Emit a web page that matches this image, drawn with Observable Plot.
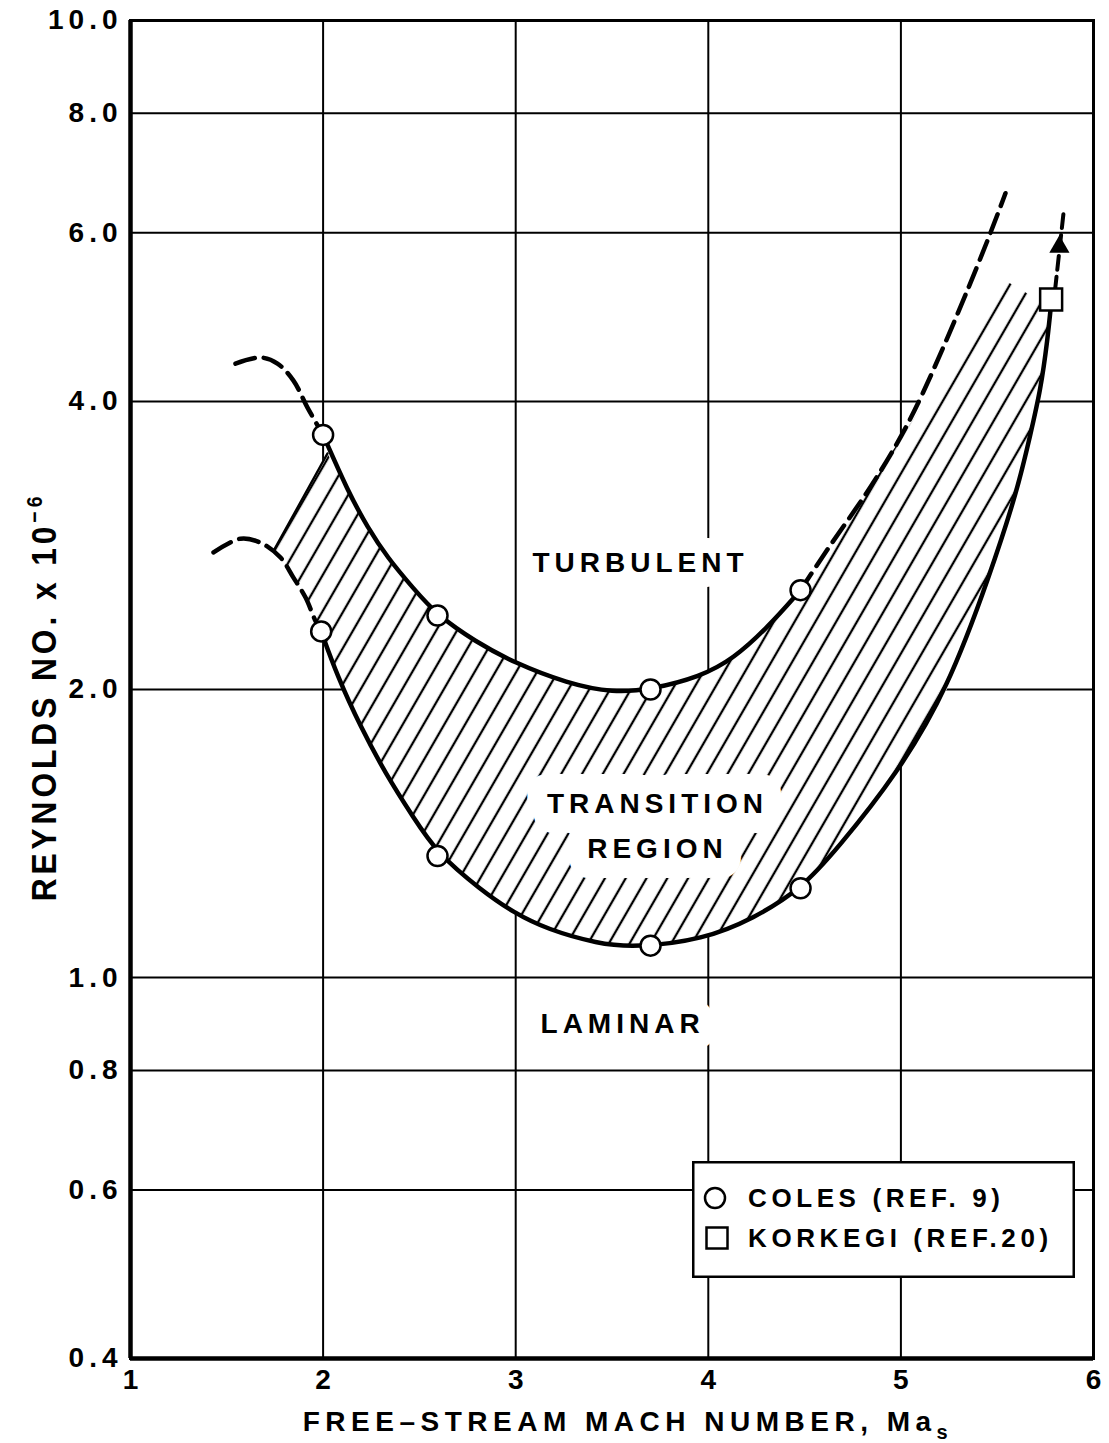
<!DOCTYPE html>
<html><head><meta charset="utf-8">
<script src="https://cdn.jsdelivr.net/npm/d3@7"></script>
<script src="https://cdn.jsdelivr.net/npm/@observablehq/plot@0.6"></script>
<style>
html,body{margin:0;padding:0;background:#fff;}
#wrap{position:relative;width:1109px;height:1443px;}
g[aria-label="y-axis tick label"] text{letter-spacing:5px}
#legend{position:absolute;left:692px;top:1161px;}
#legend text{font-family:"Liberation Sans",Arial,sans-serif;font-weight:bold;font-size:26px;letter-spacing:4.6px;}
</style></head><body><div id="wrap"></div>
<script>
// axes
const xTicks = [1, 2, 3, 4, 5, 6];
const yTicks = [0.4, 0.6, 0.8, 1, 2, 4, 6, 8, 10];

// data points
const colesM = [2.0, 1.99, 2.594, 2.594, 3.70, 3.70, 4.479, 4.479];
const colesR = [3.69, 2.30, 2.39, 1.34, 2.00, 1.08, 2.54, 1.24];
const korkegiM = [5.78];
const korkegiR = [5.11];

// curves [Mach, Re x 1e-6]
const upperSolid = [[2.0,3.69],[2.127,3.228],[2.231,2.953],[2.334,2.747],[2.469,2.55],[2.594,2.39],[2.791,2.244],[2.989,2.134],[3.269,2.029],[3.508,1.984],[3.70,2.00],[3.96,2.063],[4.131,2.154],[4.307,2.321],[4.479,2.54]];
const upperDashedRight = [[4.479,2.54],[4.634,2.835],[4.806,3.167],[4.962,3.553],[5.10,4.0],[5.325,5.098],[5.465,5.99],[5.543,6.6]];
const upperDashedLeft = [[1.545,4.38],[1.675,4.445],[1.763,4.381],[1.846,4.205],[1.919,3.94],[2.0,3.69]];
const lowerDashedLeft = [[1.431,2.781],[1.571,2.875],[1.675,2.847],[1.779,2.747],[1.846,2.618],[1.909,2.495],[1.96,2.36],[1.99,2.30]];
const lowerSolid = [[1.99,2.30],[2.075,2.063],[2.194,1.829],[2.324,1.634],[2.469,1.470],[2.594,1.348],[2.817,1.236],[2.989,1.169],[3.165,1.123],[3.425,1.085],[3.622,1.075],[3.975,1.096],[4.235,1.153],[4.479,1.236],[4.671,1.364],[4.982,1.634],[5.242,2.0],[5.465,2.644],[5.605,3.23],[5.673,3.70],[5.725,4.11],[5.761,4.63],[5.782,5.11]];
const korkegiArrow = [[5.80,5.22],[5.844,6.285]];
const arrowHead = [[5.823,5.80]];

// hatched transition band edges
const bandLeftTop = [2.023, 3.53];
const bandLeftBottom = [1.742, 2.79];
const hatchTopRight = [[4.65,2.813],[4.962,3.553],[5.19,4.175],[5.507,5.40],[5.751,5.05]];

// region labels
const regionLabels = ["TURBULENT", "TRANSITION", "REGION", "LAMINAR"];
const labelM = [3.648, 3.736, 3.736, 3.555];
const labelR = [2.708, 1.520, 1.364, 0.895];
const labelHalo = [30, 40, 40, 30];

// ---- build tables
const coles = colesM.map((m, i) => ({m, r: colesR[i]}));
const korkegi = korkegiM.map((m, i) => ({m, r: korkegiR[i]}));
const labels = regionLabels.map((t, i) => ({t, m: labelM[i], r: labelR[i], h: labelHalo[i]}));

const upperInner = upperSolid.filter(d => d[0] > bandLeftTop[0]);
const hatchTop = [bandLeftTop, ...upperInner, ...hatchTopRight];
const whiteTop = [bandLeftTop, ...upperInner, ...upperDashedRight.slice(1, 6), ...hatchTopRight.slice(-2)];
const bandBottom = [bandLeftBottom, ...lowerDashedLeft.filter(d => d[0] > bandLeftBottom[0]), ...lowerSolid.slice(1)];

function bandRows(top, bottom) {
  const n = Math.max(top.length, bottom.length);
  return d3.range(n).map(i => {
    const t = top[Math.min(i, top.length - 1)], b = bottom[Math.min(i, bottom.length - 1)];
    return {x1: b[0], y1: b[1], x2: t[0], y2: t[1]};
  });
}

const X = d => d[0], Y = d => d[1];
const dash = "20,9";
const crv = "basis";

const chart = Plot.plot({
  width: 1109, height: 1443,
  marginLeft: 130, marginRight: 16, marginTop: 20, marginBottom: 85,
  x: {type: "linear", domain: [xTicks[0], xTicks[xTicks.length - 1]]},
  y: {type: "log", domain: [yTicks[0], yTicks[yTicks.length - 1]]},
  style: {fontFamily: '"Liberation Sans", Arial, sans-serif', fontWeight: "bold", fontSize: "28px", background: "white", color: "black"},
  marks: [
    Plot.gridX(xTicks, {stroke: "black", strokeOpacity: 1, strokeWidth: 2}),
    Plot.gridY(yTicks, {stroke: "black", strokeOpacity: 1, strokeWidth: 2}),
    Plot.area(bandRows(whiteTop, bandBottom), {x1: "x1", y1: "y1", x2: "x2", y2: "y2", fill: "white", curve: "linear"}),
    Plot.area(bandRows(hatchTop, bandBottom), {x1: "x1", y1: "y1", x2: "x2", y2: "y2", fill: "url(#hatch)", curve: "linear"}),
    Plot.line([bandLeftBottom, bandLeftTop], {x: X, y: Y, stroke: "black", strokeWidth: 2.3}),
    Plot.text(labels, {x: "m", y: "r", text: "t", fill: "black", stroke: "white", strokeWidth: "h", fontSize: 28, fontWeight: "bold"}),
    Plot.line(upperSolid, {x: X, y: Y, curve: crv, stroke: "black", strokeWidth: 4.5}),
    Plot.line(lowerSolid, {x: X, y: Y, curve: crv, stroke: "black", strokeWidth: 4.5}),
    Plot.line(upperDashedRight, {x: X, y: Y, curve: crv, stroke: "black", strokeWidth: 4.5, strokeDasharray: dash}),
    Plot.line(upperDashedLeft, {x: X, y: Y, curve: "catmull-rom", stroke: "black", strokeWidth: 4.5, strokeDasharray: dash}),
    Plot.line(lowerDashedLeft, {x: X, y: Y, curve: "catmull-rom", stroke: "black", strokeWidth: 4.5, strokeDasharray: dash}),
    Plot.line(korkegiArrow, {x: X, y: Y, stroke: "black", strokeWidth: 4, strokeDasharray: "14,7"}),
    Plot.dot(arrowHead, {x: X, y: Y, symbol: "triangle", r: 7.5, fill: "black", stroke: "none"}),
    Plot.frame({stroke: "black", strokeWidth: 3}),
    Plot.ruleX([xTicks[0]], {stroke: "black", strokeWidth: 4.5}),
    Plot.ruleY([yTicks[0]], {stroke: "black", strokeWidth: 4.5}),
    Plot.dot(coles, {x: "m", y: "r", r: 10, fill: "white", stroke: "black", strokeWidth: 2.5}),
    Plot.dot(korkegi, {x: "m", y: "r", symbol: "square", r: 12.4, fill: "white", stroke: "black", strokeWidth: 2.5}),
    Plot.axisX(xTicks, {tickSize: 0, tickPadding: 11, tickFormat: d => String(d), fontSize: 28, label: null}),
    Plot.axisY(yTicks, {tickSize: 0, tickPadding: 8, tickFormat: d => d.toFixed(1), fontSize: 28, label: null})
  ]
});

const svg = d3.select(chart);
const defs = svg.insert("defs", ":first-child");
const pat = defs.append("pattern").attr("id", "hatch").attr("patternUnits", "userSpaceOnUse")
  .attr("width", 18).attr("height", 18).attr("patternTransform", "rotate(30)");
pat.append("line").attr("x1", 9).attr("x2", 9).attr("y1", -1).attr("y2", 19)
  .attr("stroke", "black").attr("stroke-width", 2.3);

// letter spacing of region labels
svg.selectAll("text").filter(function () { return regionLabels.includes(this.textContent); })
  .style("letter-spacing", "5px");

// axis titles
const yl = svg.append("text").attr("transform", "translate(56,697) rotate(-90) scale(0.88,1)")
  .attr("text-anchor", "middle").style("font-size", "36px").style("letter-spacing", "4.5px").attr("fill", "black");
yl.append("tspan").text("REYNOLDS NO. x 10");
yl.append("tspan").attr("dy", -14).style("font-size", "22px").text("−6");

const xl = svg.append("text").attr("x", 628).attr("y", 1431)
  .attr("text-anchor", "middle").style("font-size", "28px").style("letter-spacing", "5.5px").attr("fill", "black");
xl.append("tspan").text("FREE–STREAM MACH NUMBER, Ma");
xl.append("tspan").attr("dy", 8).style("font-size", "20px").text("s");

document.getElementById("wrap").appendChild(chart);

// legend box
const leg = d3.select("#wrap").append("svg").attr("id", "legend").attr("width", 384).attr("height", 118);
leg.append("rect").attr("x", 1.25).attr("y", 1.25).attr("width", 380.5).attr("height", 114.5)
  .attr("fill", "white").attr("stroke", "black").attr("stroke-width", 2.5);
leg.append("circle").attr("cx", 23).attr("cy", 37).attr("r", 10).attr("fill", "white").attr("stroke", "black").attr("stroke-width", 2.5);
leg.append("rect").attr("x", 14.5).attr("y", 66.5).attr("width", 21).attr("height", 21).attr("fill", "white").attr("stroke", "black").attr("stroke-width", 2.5);
leg.append("text").attr("x", 56).attr("y", 46).text("COLES (REF. 9)");
leg.append("text").attr("x", 56).attr("y", 86).text("KORKEGI (REF.20)");
</script></body></html>
